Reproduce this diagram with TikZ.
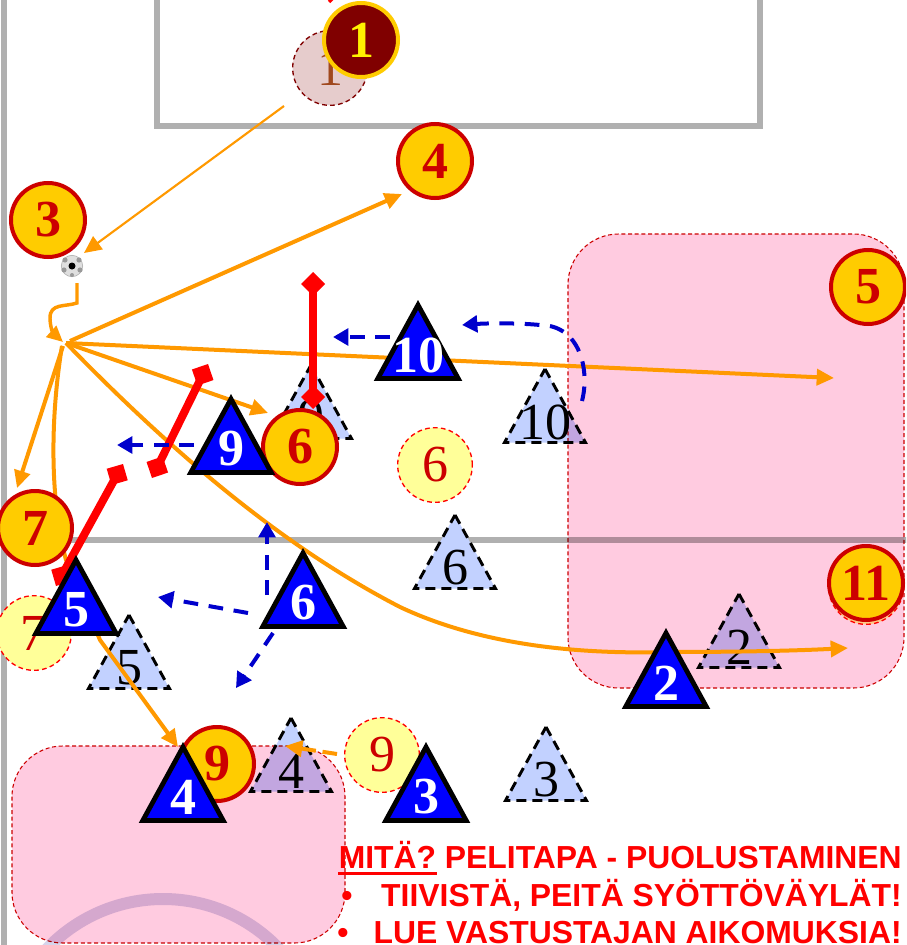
\documentclass[tikz,border=0pt]{standalone}
\usepackage{fontspec}
\setmainfont{Liberation Serif}
\newfontfamily\capfont{Liberation Sans}
\usetikzlibrary{arrows.meta,shapes.geometric}
\definecolor{fieldgray}{HTML}{B0B0B0}
\definecolor{gold}{HTML}{FFCC00}
\definecolor{dkred}{HTML}{CC0000}
\definecolor{pale}{HTML}{FFFF99}
\definecolor{paleblue}{HTML}{C2D1FF}
\definecolor{zonepink}{HTML}{FFCBE0}
\definecolor{runorange}{HTML}{FF9900}
\definecolor{moveblue}{HTML}{0000CC}
\definecolor{maroon}{HTML}{800000}
\definecolor{arcfade}{HTML}{D5D4EB}
\definecolor{ghostbrown}{HTML}{A0481E}
\tikzset{
  fieldline/.style={draw=fieldgray,line width=4.2pt,line cap=rect},
  zone/.style={fill=zonepink,draw=dkred,line width=.8pt,dash pattern=on 3pt off 2pt,rounded corners=38pt},
  goldbase/.style={circle,minimum size=55.5pt,inner sep=0pt,line width=3pt},
  golddisc/.style={goldbase,fill=gold,draw=dkred,text=dkred,font=\fontsize{39}{39}\selectfont\bfseries},
  keeper/.style={goldbase,fill=maroon,draw=gold,text=yellow,font=\fontsize{39}{39}\selectfont\bfseries},
  palefill/.style={circle,minimum size=56pt,inner sep=0pt,line width=1pt,dash pattern=on 3.5pt off 2.5pt},
  paledisc/.style={palefill,fill=pale,draw=red,text=dkred,font=\fontsize{39}{39}\selectfont},
  ghostkeeper/.style={palefill,fill=maroon!20,draw=maroon,text=ghostbrown,font=\fontsize{39}{39}\selectfont},
  bluetext/.style={text=white,inner sep=0pt,font=\fontsize{39}{39}\selectfont\bfseries},
  ghosttext/.style={text=black,inner sep=0pt,font=\fontsize{39}{39}\selectfont},
  bluetri/.style={fill=blue,draw=black,line width=3.6pt,line join=miter},
  ghosttri/.style={fill=paleblue,draw=black,line width=2.2pt,dash pattern=on 7.5pt off 4.5pt},
  run/.style={draw=runorange,line width=3pt,-{Triangle[length=13pt,width=12pt]}},
  thinrun/.style={draw=runorange,line width=1.6pt,-{Triangle[length=13pt,width=12pt]}},
  move/.style={draw=moveblue,line width=3pt,dash pattern=on 11pt off 8pt,-{Triangle[length=11.5pt,width=12.5pt]}},
  block/.style={draw=red,line width=6pt,{Turned Square[length=18pt,width=18pt]}-{Turned Square[length=18pt,width=18pt]}},
  captext/.style={text=red,inner sep=0pt,font=\capfont\fontsize{23.9}{23.9}\selectfont\bfseries},
}
\newcommand{\bluetriangle}[4]{% name, x, top y, label
  \draw[bluetri] (#2,#3+5) -- (#2+40.2,#3+78.5) -- (#2-40.2,#3+78.5) -- cycle;
  \node[bluetext] (#1) at (#2,#3+55) {#4};
}
\newcommand{\ghosttriangle}[4]{%
  \draw[ghosttri] (#2,#3+1) -- (#2+40.5,#3+74.5) -- (#2-40.5,#3+74.5) -- cycle;
  \node[ghosttext] (#1) at (#2,#3+54) {#4};
}
\begin{document}
\begin{tikzpicture}[x=.75pt,y=-.75pt]
\clip (0,0) rectangle (906,945);
\fill[white] (0,0) rectangle (906,945);
% field
\draw[fieldline] (4,-5) -- (4,950);
\draw[fieldline] (157,-5) -- (157,126) -- (760,126) -- (760,-5);
\draw[fieldline,line width=4pt] (4,540) -- (910,540);
\draw[draw=arcfade,line width=9pt] (163,1059) circle[radius=160];
% pale markers
\node[ghostkeeper] (gk1) at (330,68) {1};
\node[paledisc] (p6) at (435,465) {6};
\node[paledisc] (p7) at (34,633) {7};
\node[paledisc] (p9) at (382,755) {9};
\node[paledisc] (p11) at (866,587) {11};
\ghosttriangle{g10}{545}{368}{10}
\ghosttriangle{g2}{739}{593}{2}
\ghosttriangle{g6}{455}{514}{6}
\ghosttriangle{g3}{546}{726}{3}
\ghosttriangle{g4}{291}{717}{4}
\ghosttriangle{g5}{129}{614}{5}
\ghosttriangle{g9}{311}{364}{9}
% zones
\begin{scope}[blend mode=multiply]
\path[zone] (568,234) rectangle (904,688);
\path[zone] (12,746) rectangle (345,943);
\end{scope}
% connector anchors
\coordinate (origin) at (66,343);
\coordinate (ball) at (72,266);
\coordinate (c1start) at (284,106);
\coordinate (c3) at (84,253);
\coordinate (t4) at (402,194);
\coordinate (t5) at (834,378);
\coordinate (t6) at (268,413);
\coordinate (t7) at (17,488);
\coordinate (t9) at (178,747);
\coordinate (t11) at (848,648);
% runs
\draw[thinrun] (c1start) -- (c3);
\draw[draw=runorange,line width=2.6pt,-{Triangle[length=12pt,width=11pt]}] (77,283) -- (77,303) .. controls (65,307) and (50,303) .. (50,318) .. controls (50,326) and (53,333) .. (63,342);
\draw[run] (70,341) -- (t4);
\draw[run] (origin) -- (t5);
\draw[run] (origin) -- (t6);
\draw[run] (63,346) -- (t7);
\draw[run] (62,346) .. controls (50,420) and (50,500) .. (66,560) -- (100,640) -- (t9);
\draw[run] (origin) .. controls (170,450) and (280,545) .. (400,607) .. controls (470,640) and (560,655) .. (667,652) .. controls (730,652) and (790,651) .. (t11);
\draw[run,dash pattern=on 11pt off 5pt] (337,754) -- (285,746);
% ball
\node[circle,fill=gray!25,draw=gray!60,line width=.5pt,minimum size=16pt,inner sep=0pt] (soccer) at (ball) {};
\fill[black] (72,266) circle[radius=3.5];
\fill[gray!80] (65,260) circle[radius=2.6] (79,260) circle[radius=2.6] (64,270) circle[radius=2.6] (80,270) circle[radius=2.6] (72,275) circle[radius=2];
% blocks
\coordinate (b1a) at (313,272);
\coordinate (b1b) at (313,409);
\coordinate (b2a) at (208,364);
\coordinate (b2b) at (152,478);
\coordinate (b3a) at (123,464);
\coordinate (b3b) at (56,586);
\draw[block] (b1a) -- (b1b);
\draw[block] (b2a) -- (b2b);
\draw[block] (b3a) -- (b3b);
\draw[draw=red,line width=2.5pt] (337,-6) -- (329,2);
% moves
\draw[move] (390,337) -- (333,337);
\draw[move] (582,401) .. controls (590,370) and (580,325) .. (540,325) .. controls (520,323) and (490,323) .. (462,325);
\draw[move] (194,445) -- (117,445);
\draw[move] (267,595) -- (267,522);
\draw[move] (248,613) -- (158,597);
\draw[move] (273,633) -- (236,688);
% gold markers
\node[keeper] (k1) at (361,40) {1};
\node[golddisc] (m3) at (48,220) {3};
\node[golddisc] (m4) at (435,161) {4};
\node[golddisc] (m5) at (868,287) {5};
\node[golddisc] (m6) at (300,447) {6};
\node[golddisc] (m7) at (35,528) {7};
\node[golddisc] (m9) at (217,764) {9};
\node[golddisc] (m11) at (866,583) {11};
% players
\bluetriangle{b9}{231}{394}{9}
\bluetriangle{b10}{418}{300}{10}
\bluetriangle{b6}{303}{548}{6}
\bluetriangle{b5}{76}{555}{5}
\bluetriangle{b4}{183}{742}{4}
\bluetriangle{b3}{426}{742}{3}
\bluetriangle{b2}{666}{628}{2}
% caption
\node[captext,anchor=base east] (l1) at (902,868) {MITÄ? PELITAPA - PUOLUSTAMINEN};
\draw[draw=red,line width=2.4pt] (338,873.5) -- (437,873.5);
\node[captext,anchor=base east] (l2) at (902,906) {TIIVISTÄ, PEITÄ SYÖTTÖVÄYLÄT!};
\node[captext,anchor=base east] (l3) at (902,943) {LUE VASTUSTAJAN AIKOMUKSIA!};
\node[captext,anchor=base] (bu1) at (347,906) {•};
\node[captext,anchor=base] (bu2) at (343,943) {•};
\end{tikzpicture}
\end{document}
